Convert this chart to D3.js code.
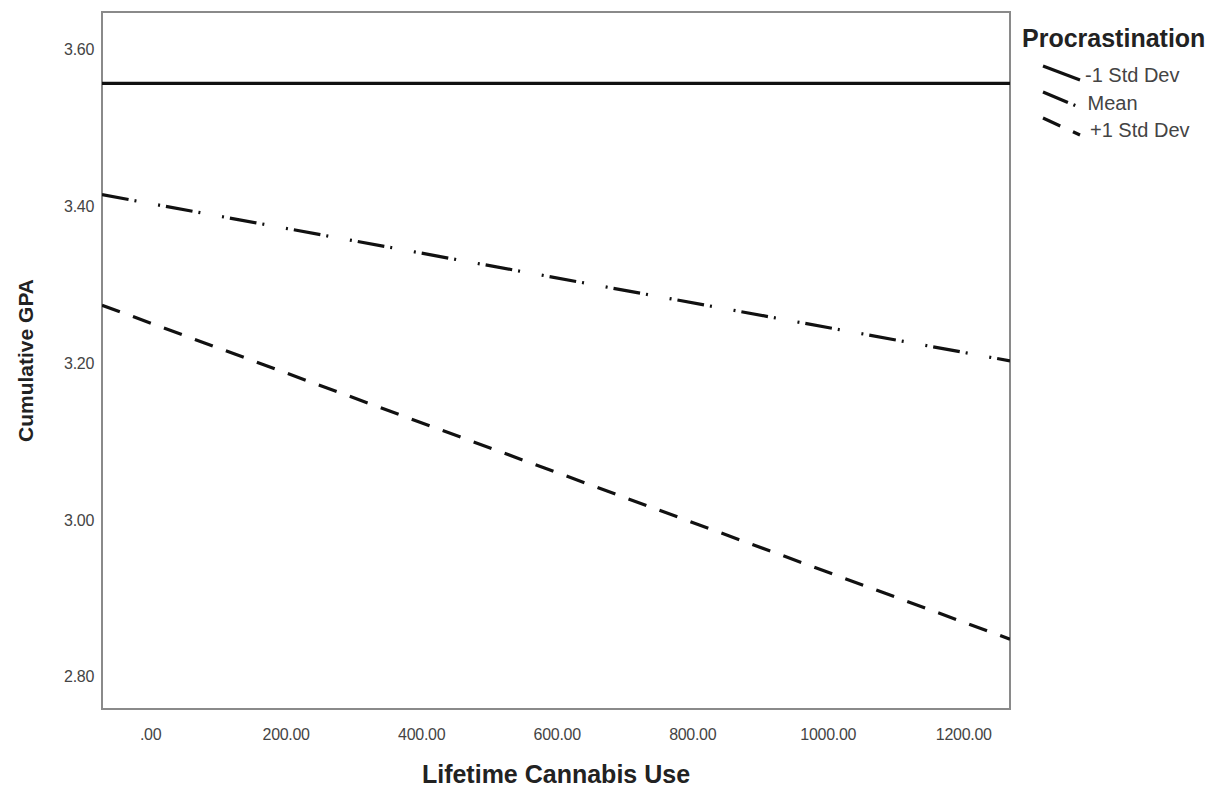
<!DOCTYPE html>
<html>
<head>
<meta charset="utf-8">
<script src="https://cdn.jsdelivr.net/npm/d3@7"></script>
<style>
  body { margin: 0; background: #fff; }
  svg { font-family: "Liberation Sans", Arial, sans-serif; }
  .tick text { fill: #444; font-size: 16px; letter-spacing: -0.3px; }
</style>
</head>
<body>
<div id="chart"></div>
<script>
// x range of the fitted lines (lifetime cannabis use)
var xDomain = [-71, 1269];
var yDomain = [2.759, 3.648];
var xTicks = [0, 200, 400, 600, 800, 1000, 1200];
var yTicks = [2.80, 3.00, 3.20, 3.40, 3.60];

var groups = ["-1 Std Dev", "Mean", "+1 Std Dev"];
var gpaStart = [3.557, 3.415, 3.274];
var gpaEnd = [3.557, 3.203, 2.848];
var dashes = ["none", "27,6,2,22,2,6", "19,14"];

var width = 1217, height = 789;
var margin = {top: 12, right: 207, bottom: 80, left: 102};
var w = width - margin.left - margin.right,
    h = height - margin.top - margin.bottom;

var svg = d3.select("#chart").append("svg")
    .attr("width", width)
    .attr("height", height);

var g = svg.append("g").attr("transform", "translate(" + margin.left + "," + margin.top + ")");

var x = d3.scaleLinear().domain(xDomain).range([0, w]);
var y = d3.scaleLinear().domain(yDomain).range([h, 0]);

g.append("clipPath").attr("id", "clip")
  .append("rect").attr("width", w).attr("height", h);

// frame
g.append("rect")
    .attr("width", w)
    .attr("height", h)
    .attr("fill", "none")
    .attr("stroke", "#8a8a8a")
    .attr("stroke-width", 2);

// axes, ticks hidden
var xAxis = g.append("g")
    .attr("transform", "translate(0," + h + ")")
    .call(d3.axisBottom(x).tickValues(xTicks).tickSize(0).tickPadding(20)
      .tickFormat(function(d) { return d === 0 ? ".00" : d3.format(".2f")(d); }));
xAxis.select(".domain").remove();

var yAxis = g.append("g")
    .call(d3.axisLeft(y).tickValues(yTicks).tickSize(0).tickPadding(8).tickFormat(d3.format(".2f")));
yAxis.select(".domain").remove();

// lines
var line = d3.line().x(function(d) { return x(d[0]); }).y(function(d) { return y(d[1]); });
groups.forEach(function(name, i) {
  g.append("path")
      .datum([[xDomain[0], gpaStart[i]], [xDomain[1], gpaEnd[i]]])
      .attr("clip-path", "url(#clip)")
      .attr("d", line)
      .attr("fill", "none")
      .attr("stroke", "#111")
      .attr("stroke-width", 3.2)
      .attr("stroke-dasharray", dashes[i]);
});

// axis titles
svg.append("text")
    .attr("x", margin.left + w / 2)
    .attr("y", 783)
    .attr("text-anchor", "middle")
    .attr("font-size", 25)
    .attr("font-weight", "bold")
    .attr("fill", "#222")
    .text("Lifetime Cannabis Use");

svg.append("text")
    .attr("transform", "translate(33," + (margin.top + h / 2) + ") rotate(-90)")
    .attr("text-anchor", "middle")
    .attr("font-size", 21)
    .attr("font-weight", "bold")
    .attr("fill", "#222")
    .text("Cumulative GPA");

// legend
var legend = svg.append("g").attr("transform", "translate(1022,0)");
legend.append("text")
    .attr("x", 0)
    .attr("y", 47)
    .attr("font-size", 25)
    .attr("font-weight", "bold")
    .attr("fill", "#222")
    .text("Procrastination");

groups.forEach(function(name, i) {
  var y0 = 66 + i * 26;
  legend.append("line")
      .attr("x1", 21).attr("y1", y0)
      .attr("x2", 58).attr("y2", y0 + 14 + i * 1.5)
      .attr("stroke", "#111")
      .attr("stroke-width", 3.2)
      .attr("stroke-dasharray", dashes[i]);
  legend.append("text")
      .attr("x", 63 + i * 2.5)
      .attr("y", y0 + 16 + i * 1.5)
      .attr("font-size", 20)
      .attr("fill", "#444")
      .text(name);
});
</script>
</body>
</html>
